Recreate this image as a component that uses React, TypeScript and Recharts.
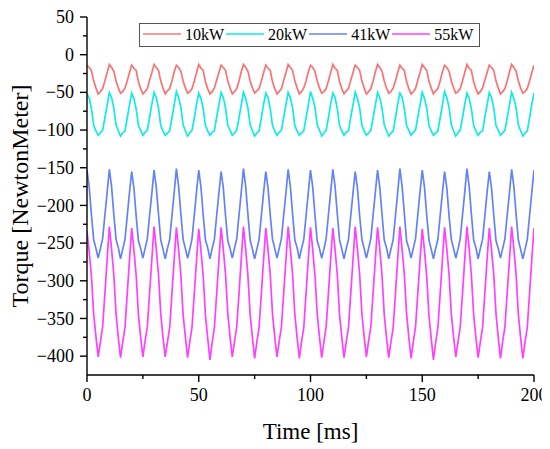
import React from 'react';
import { LineChart, Line, XAxis, YAxis, Legend } from 'recharts';

// Time grid: sampled every 1 ms from 0 to 200 ms
const TIME_STEP_MS = 1;
const TIME: number[] = Array.from({ length: 201 }, (_, i) => i * TIME_STEP_MS);

const P10: number[] = [
  -14, -17, -21, -35, -44, -52, -49, -45, -35, -24,
  -13, -17, -22, -35, -44, -51, -49, -44, -35, -24,
  -14, -18, -21, -36, -45, -52, -49, -45, -34, -24,
  -13, -17, -21, -35, -44, -52, -48, -45, -35, -23,
  -14, -17, -22, -35, -44, -51, -49, -45, -35, -24,
  -13, -18, -21, -36, -45, -52, -49, -44, -34, -24,
  -14, -17, -21, -35, -44, -52, -49, -45, -35, -23,
  -13, -17, -22, -35, -44, -51, -48, -45, -35, -24,
  -14, -18, -21, -36, -45, -52, -49, -45, -34, -24,
  -13, -17, -21, -35, -44, -52, -49, -44, -35, -23,
  -14, -17, -22, -35, -44, -51, -49, -45, -35, -24,
  -13, -18, -21, -36, -45, -52, -48, -45, -34, -24,
  -14, -17, -21, -35, -44, -52, -49, -45, -35, -23,
  -13, -17, -22, -35, -44, -51, -49, -44, -35, -24,
  -14, -18, -21, -36, -45, -52, -49, -45, -34, -24,
  -13, -17, -21, -35, -44, -52, -48, -45, -35, -23,
  -14, -17, -22, -35, -44, -51, -49, -45, -35, -24,
  -13, -18, -21, -36, -45, -52, -49, -44, -34, -24,
  -14, -17, -21, -35, -44, -52, -49, -45, -35, -23,
  -13, -17, -22, -35, -44, -51, -49, -45, -35, -24,
  -14,
];

const P20: number[] = [
  -52, -58, -72, -94, -101, -107, -104, -100, -84, -67,
  -50, -57, -71, -93, -101, -108, -104, -101, -84, -67,
  -51, -58, -72, -94, -100, -107, -103, -100, -83, -66,
  -50, -57, -71, -94, -101, -107, -104, -101, -84, -67,
  -49, -57, -70, -93, -101, -108, -104, -100, -84, -66,
  -51, -58, -72, -94, -101, -107, -103, -101, -83, -67,
  -50, -57, -71, -94, -100, -107, -104, -100, -84, -67,
  -50, -58, -71, -93, -101, -108, -104, -101, -84, -66,
  -51, -57, -72, -94, -101, -107, -103, -100, -83, -67,
  -50, -57, -71, -94, -101, -107, -104, -101, -84, -67,
  -49, -58, -70, -93, -100, -108, -104, -100, -84, -66,
  -51, -57, -72, -94, -101, -107, -103, -101, -83, -67,
  -50, -58, -71, -94, -101, -107, -104, -100, -84, -67,
  -50, -57, -71, -93, -101, -108, -104, -101, -84, -66,
  -51, -57, -72, -94, -100, -107, -103, -100, -83, -67,
  -50, -58, -71, -94, -101, -107, -104, -101, -84, -67,
  -49, -57, -70, -93, -101, -108, -104, -100, -84, -66,
  -51, -58, -72, -94, -101, -107, -103, -101, -83, -67,
  -50, -57, -71, -94, -100, -107, -104, -100, -84, -67,
  -50, -58, -71, -93, -101, -108, -104, -101, -84, -66,
  -51,
];

const P41: number[] = [
  -153, -176, -213, -246, -257, -270, -257, -244, -213, -183,
  -152, -175, -212, -245, -256, -271, -258, -245, -214, -183,
  -155, -177, -214, -247, -257, -270, -257, -244, -213, -184,
  -153, -176, -212, -246, -258, -271, -257, -245, -214, -183,
  -151, -175, -211, -245, -257, -270, -258, -244, -213, -182,
  -153, -176, -213, -246, -256, -271, -257, -245, -214, -184,
  -155, -177, -214, -247, -257, -270, -257, -244, -213, -183,
  -151, -175, -212, -246, -258, -271, -258, -245, -214, -183,
  -155, -177, -213, -245, -257, -270, -257, -244, -213, -184,
  -152, -175, -212, -246, -256, -271, -257, -245, -214, -183,
  -153, -176, -213, -247, -257, -270, -258, -244, -213, -183,
  -152, -175, -212, -246, -258, -271, -257, -245, -214, -184,
  -155, -177, -214, -245, -257, -270, -257, -244, -213, -183,
  -153, -176, -212, -246, -256, -271, -258, -245, -214, -183,
  -151, -175, -211, -247, -257, -270, -257, -244, -213, -182,
  -153, -176, -213, -246, -258, -271, -257, -245, -214, -184,
  -155, -177, -214, -245, -257, -270, -258, -244, -213, -183,
  -151, -175, -212, -246, -256, -271, -257, -245, -214, -183,
  -155, -177, -213, -247, -257, -270, -257, -244, -213, -184,
  -152, -175, -212, -246, -258, -271, -258, -245, -214, -183,
  -153,
];

const P55: number[] = [
  -234, -262, -294, -345, -374, -401, -381, -361, -317, -272,
  -228, -258, -292, -344, -375, -402, -381, -362, -317, -273,
  -230, -259, -293, -345, -374, -401, -380, -361, -316, -272,
  -228, -258, -292, -344, -375, -401, -381, -362, -317, -272,
  -229, -259, -292, -345, -374, -402, -381, -361, -317, -273,
  -231, -260, -294, -346, -376, -405, -382, -362, -318, -273,
  -229, -258, -292, -344, -374, -401, -381, -361, -317, -272,
  -228, -258, -293, -345, -375, -403, -381, -362, -317, -272,
  -230, -259, -292, -344, -374, -401, -380, -361, -316, -273,
  -228, -258, -292, -345, -375, -403, -381, -362, -317, -272,
  -229, -259, -293, -344, -374, -402, -381, -361, -317, -272,
  -230, -259, -292, -345, -375, -402, -381, -362, -317, -273,
  -228, -258, -292, -344, -374, -401, -380, -361, -316, -272,
  -229, -258, -293, -345, -375, -402, -381, -362, -317, -272,
  -228, -259, -292, -344, -375, -403, -381, -361, -317, -273,
  -231, -260, -294, -346, -376, -405, -382, -362, -318, -273,
  -229, -258, -292, -344, -374, -401, -381, -361, -317, -272,
  -228, -258, -293, -345, -375, -402, -381, -362, -317, -272,
  -230, -259, -292, -344, -375, -403, -380, -361, -316, -273,
  -228, -258, -292, -345, -375, -403, -381, -362, -317, -272,
  -230,
];

const SERIES_NAMES = ['10kW', '20kW', '41kW', '55kW'];
const SERIES_KEYS = ['p10', 'p20', 'p41', 'p55'];
const SERIES_COLORS = ['#F87474', '#10EAEA', '#6482F6', '#FF40FF'];

const X_TICKS = [0, 25, 50, 75, 100, 125, 150, 175, 200];
const X_MAJOR = [0, 50, 100, 150, 200];
const Y_TICKS = [-400, -375, -350, -325, -300, -275, -250, -225, -200, -175, -150, -125, -100, -75, -50, -25, 0, 25, 50];
const Y_MAJOR = [-400, -350, -300, -250, -200, -150, -100, -50, 0, 50];
const X_DOMAIN: [number, number] = [0, 200];
const Y_DOMAIN: [number, number] = [-425, 50];

const rows = TIME.map((t, i) => ({ t, p10: P10[i], p20: P20[i], p41: P41[i], p55: P55[i] }));

const FONT = '"Liberation Serif", "Times New Roman", serif';
const TICK_SIZE = 7;
const MAJOR_LEN = 7;
const MINOR_LEN = 4;
const X_MARGIN = 7;
const Y_MARGIN = 6;
const AXIS_W = 1.4;
const TICK_FONT = 18;

const fmt = (v: number) => (v < 0 ? '\u2212' + Math.abs(v) : String(v));

const BottomTick = (p: any) => {
  const { x, y, payload } = p;
  const axisY = y - TICK_SIZE - X_MARGIN;
  const major = X_MAJOR.includes(payload.value);
  return (
    <g>
      <line x1={x} x2={x} y1={axisY} y2={axisY + (major ? MAJOR_LEN : MINOR_LEN)} stroke="#000" strokeWidth={AXIS_W} />
      {major && (
        <text x={x} y={y} dy="0.68em" textAnchor="middle" fontFamily={FONT} fontSize={TICK_FONT} fill="#000">
          {fmt(payload.value)}
        </text>
      )}
    </g>
  );
};

const TopTick = (p: any) => {
  const { x, y, payload } = p;
  const axisY = y + TICK_SIZE + X_MARGIN;
  const major = X_MAJOR.includes(payload.value);
  return (
    <line x1={x} x2={x} y1={axisY} y2={axisY - (major ? MAJOR_LEN : MINOR_LEN)} stroke="#000" strokeWidth={AXIS_W} />
  );
};

const LeftTick = (p: any) => {
  const { x, y, payload } = p;
  const axisX = x + TICK_SIZE + Y_MARGIN;
  const major = Y_MAJOR.includes(payload.value);
  return (
    <g>
      <line x1={axisX - (major ? MAJOR_LEN : MINOR_LEN)} x2={axisX} y1={y} y2={y} stroke="#000" strokeWidth={AXIS_W} />
      {major && (
        <text x={x} y={y} dy="0.34em" textAnchor="end" fontFamily={FONT} fontSize={TICK_FONT} fill="#000">
          {fmt(payload.value)}
        </text>
      )}
    </g>
  );
};

const RightTick = (p: any) => {
  const { x, y, payload } = p;
  const axisX = x - TICK_SIZE - Y_MARGIN;
  const major = Y_MAJOR.includes(payload.value);
  return (
    <line x1={axisX} x2={axisX + (major ? MAJOR_LEN : MINOR_LEN)} y1={y} y2={y} stroke="#000" strokeWidth={AXIS_W} />
  );
};

const YTitle = (p: any) => {
  const vb = p.viewBox || {};
  const cx = vb.x + 12;
  const cy = vb.y + vb.height / 2;
  return (
    <text x={cx} y={cy} dy="0.35em" textAnchor="middle" transform={`rotate(-90, ${cx}, ${cy})`} fontFamily={FONT} fontSize={24} fill="#000">
      Torque [NewtonMeter]
    </text>
  );
};

const XTitle = (p: any) => {
  const vb = p.viewBox || {};
  const cx = vb.x + vb.width / 2;
  const by = vb.y + 64;
  return (
    <text x={cx} y={by} textAnchor="middle" fontFamily={FONT} fontSize={23} fill="#000">
      Time [ms]
    </text>
  );
};

const renderLegend = () => (
  <div
    style={{
      border: '1px solid #555',
      background: '#fff',
      height: 24,
      width: 341,
      boxSizing: 'border-box',
      display: 'flex',
      alignItems: 'center',
      paddingLeft: 3,
      fontFamily: FONT,
      fontSize: 16,
      color: '#000',
    }}
  >
    {SERIES_NAMES.map((n, i) => (
      <div key={n} style={{ display: 'flex', alignItems: 'center', marginRight: 2 }}>
        <svg width={38} height={10} style={{ display: 'block' }}>
          <line x1={0} x2={38} y1={4} y2={4} stroke={SERIES_COLORS[i]} strokeWidth={1.6} />
        </svg>
        <span style={{ marginLeft: 4, lineHeight: '16px' }}>{n}</span>
      </div>
    ))}
  </div>
);

export default function App() {
  return (
    <LineChart width={550} height={449} data={rows} margin={{ top: 9, right: 24, bottom: 12, left: 0 }}>
      <XAxis
        dataKey="t"
        type="number"
        domain={X_DOMAIN}
        allowDataOverflow
        ticks={X_TICKS}
        interval={0}
        height={70}
        stroke="#000"
        axisLine={{ stroke: '#000', strokeWidth: AXIS_W }}
        tickLine={false}
        tickSize={TICK_SIZE}
        tickMargin={X_MARGIN}
        tick={BottomTick}
        label={XTitle}
      />
      <XAxis
        xAxisId="top"
        orientation="top"
        dataKey="t"
        type="number"
        domain={X_DOMAIN}
        allowDataOverflow
        ticks={X_TICKS}
        interval={0}
        height={0}
        stroke="#000"
        axisLine={{ stroke: '#000', strokeWidth: AXIS_W }}
        tickLine={false}
        tickSize={TICK_SIZE}
        tickMargin={X_MARGIN}
        tick={TopTick}
      />
      <YAxis
        type="number"
        domain={Y_DOMAIN}
        allowDataOverflow
        ticks={Y_TICKS}
        interval={0}
        width={79}
        stroke="#000"
        axisLine={{ stroke: '#000', strokeWidth: AXIS_W }}
        tickLine={false}
        tickSize={TICK_SIZE}
        tickMargin={Y_MARGIN}
        tick={LeftTick}
        label={YTitle}
      />
      <YAxis
        yAxisId="right"
        orientation="right"
        type="number"
        domain={Y_DOMAIN}
        allowDataOverflow
        ticks={Y_TICKS}
        interval={0}
        width={0}
        stroke="#000"
        axisLine={{ stroke: '#000', strokeWidth: AXIS_W }}
        tickLine={false}
        tickSize={TICK_SIZE}
        tickMargin={Y_MARGIN}
        tick={RightTick}
      />
      <Legend
        layout="horizontal"
        verticalAlign="middle"
        align="center"
        content={renderLegend}
        wrapperStyle={{ left: 131, top: 15, width: 341, height: 24 }}
      />
      {SERIES_KEYS.map((k, i) => (
        <Line
          key={k}
          dataKey={k}
          name={SERIES_NAMES[i]}
          type="linear"
          stroke={SERIES_COLORS[i]}
          strokeWidth={1.7}
          dot={false}
          isAnimationActive={false}
        />
      ))}
    </LineChart>
  );
}
